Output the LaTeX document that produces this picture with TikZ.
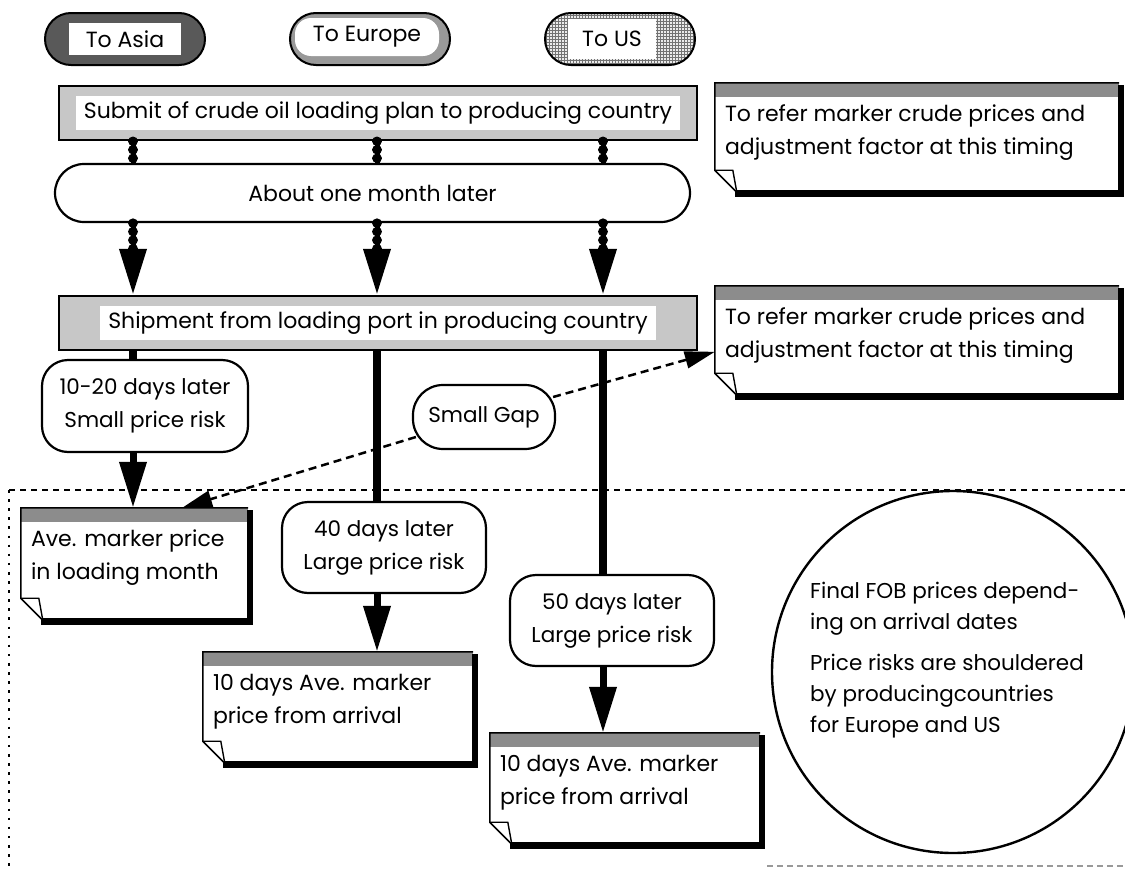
\documentclass[tikz,border=0pt]{standalone}
\usepackage{fontspec}
\setmainfont{Poppins}
\usetikzlibrary{arrows.meta,calc,fit,patterns}
\newcommand{\NoteBox}[3]{%
  \node[fit={#2}, inner sep=0pt] (#1) {};
  \fill[black!45] (#1.north west) rectangle ($(#1.north east)+(0,14)$);
  \draw[line width=1.6pt] (#1.north east) -- (#1.north west) -- ($(#1.south west)+(0,-22)$) -- ($(#1.south west)+(22,0)$);
  \draw[line width=1.4pt] ($(#1.south west)+(0,-22)$) -- ($(#1.south west)+(18,-22)$) -- ($(#1.south west)+(22,0)$);
  \fill ($(#1.south west)+(20,-2)$) rectangle ($(#1.south east)+(5,5)$);
  \fill ($(#1.north east)+(-1,2)$) rectangle ($(#1.south east)+(5,5)$);
  \node[notetext] (#1t) at ($(#1.north west)+(10,15)$) {\strut #3};
}
\begin{document}
\begin{tikzpicture}[x=1pt,y=-1pt,
  every node/.style={font=\fontsize{22}{33}\selectfont, inner sep=0pt},
  roundbox/.style={draw, line width=2.2pt, fill=white, align=center, font=\fontsize{21.5}{33}\selectfont},
  barbox/.style={draw, line width=2.5pt, fill=black!22, minimum width=638pt, minimum height=54pt},
  barlabel/.style={fill=white, inner xsep=8pt, minimum height=34pt},
  notetext/.style={anchor=north west, align=left},
  beadline/.style={line width=5pt, preaction={draw, line width=9.5pt, dash pattern=on 0.01pt off 8.5pt, line cap=round}},
  bigarrow/.style={line width=7pt, -{Triangle[width=26pt,length=46pt]}},
  shaft/.style={line width=8pt},
  dasharrow/.style={line width=2.5pt, dash pattern=on 8pt off 5pt, -{Triangle[width=17pt,length=30pt]}},
  topoval/.style={draw, line width=2pt, rounded corners=26pt, minimum height=52pt},
]
\useasboundingbox (0,0) rectangle (1125,870);
\fill[white] (0,0) rectangle (1125,870);

% frame
\coordinate (fTL) at (9,490);
\coordinate (fTR) at (1125,490);
\coordinate (fBL) at (9,866);
\coordinate (fB1) at (767,866);
\coordinate (fBR) at (1125,866);
\draw[line width=2pt, dash pattern=on 6pt off 5pt] (fTL) -- (fTR);
\draw[line width=2.6pt, dash pattern=on 2.6pt off 6.5pt] (fTL) -- (fBL);
\draw[black!40, line width=2pt, dash pattern=on 6pt off 4pt] (fB1) -- (fBR);

% top ovals
\node[topoval, fill=black!65, minimum width=160pt] (asia) at (125,39) {};
\node[fill=white, minimum width=112pt, minimum height=32pt] (asiat) at (asia) {To Asia};
\node[topoval, fill=black!40, minimum width=160pt] (europe) at (370,39) {};
\node[fill=white, rounded corners=16pt, minimum width=144pt, minimum height=38pt] (europet) at ($(europe)+(-3,-2)$) {To Europe};
\node[topoval, preaction={fill=black!8}, pattern=grid, pattern color=black!55, minimum width=150pt] (us) at (620,39) {};
\node[fill=white, minimum width=88pt, minimum height=40pt] (ust) at ($(us)+(-8,0)$) {To US};

% bars
\node[barbox] (bar1) at (378,113) {};
\node[barlabel] (bar1t) at (bar1) {Submit of crude oil loading plan to producing country};
\node[barbox] (bar2) at (378,323) {};
\node[barlabel] (bar2t) at (bar2) {Shipment from loading port in producing country};

\node[roundbox, rounded corners=29pt, minimum width=635pt, minimum height=58pt, font=\fontsize{22}{33}\selectfont] (about) at (372.5,193) {About one month later};

% notes
\NoteBox{note1}{(715,83) (1119,192)}{To refer marker crude prices and\\adjustment factor at this timing}
\NoteBox{note2}{(715,286) (1119,395)}{To refer marker crude prices and\\adjustment factor at this timing}
\NoteBox{ave}{(21,508) (248,620)}{Ave. marker price\\in loading month}
\NoteBox{boxa}{(203,652) (473,763)}{10 days Ave. marker\\price from arrival}
\NoteBox{boxb}{(490,733) (760,844)}{10 days Ave. marker\\price from arrival}

% rounded nodes
\node[roundbox, rounded corners=26pt, minimum width=206pt, minimum height=92pt] (n1020) at (145,406) {10-20 days later\\Small price risk};
\node[roundbox, rounded corners=30pt, minimum width=142pt, minimum height=64pt] (gap) at (484,417) {Small Gap};
\node[roundbox, rounded corners=26pt, minimum width=204pt, minimum height=91pt] (n40) at (384,547.5) {40 days later\\Large price risk};
\node[roundbox, rounded corners=26pt, minimum width=204pt, minimum height=91pt] (n50) at (612,620.5) {50 days later\\Large price risk};

% circle
\node[circle, draw, line width=2.4pt, minimum size=362pt] (circ) at (953,672) {};
\node[align=left, anchor=north west, font=\fontsize{21.5}{31}\selectfont] (circt) at (810,582) {Final FOB prices depend-\\ing on arrival dates\\[10pt]Price risks are shouldered\\by producingcountries\\for Europe and US};

% columns
\coordinate (c1) at (133,0);
\coordinate (c2) at (377,0);
\coordinate (c3) at (603,0);

\foreach \c in {c1,c2,c3}{
  \draw[beadline] (bar1.south -| \c) -- (about.north -| \c);
  \draw[beadline] (about.south -| \c) -- ($(bar2.north -| \c)+(0,-46)$);
  \draw[bigarrow] ($(bar2.north -| \c)+(0,-48)$) -- (bar2.north -| \c);
}

\draw[shaft] (bar2.south -| c1) -- (n1020.north -| c1);
\draw[bigarrow] (n1020.south -| c1) -- (ave.north -| c1);
\draw[shaft] (bar2.south -| c2) -- (n40.north -| c2);
\draw[bigarrow] (n40.south -| c2) -- (boxa.north -| c2);
\draw[shaft] (bar2.south -| c3) -- (n50.north -| c3);
\draw[bigarrow] (n50.south -| c3) -- (boxb.north -| c3);

% dashed arrows
\draw[dasharrow] ($(gap.east)+(-3,-20)$) -- ($(note2.north west)+(0,66)$);
\draw[dasharrow] ($(gap.west)+(4,20)$) -- ($(ave.north east)+(-66,0)$);
\end{tikzpicture}
\end{document}
